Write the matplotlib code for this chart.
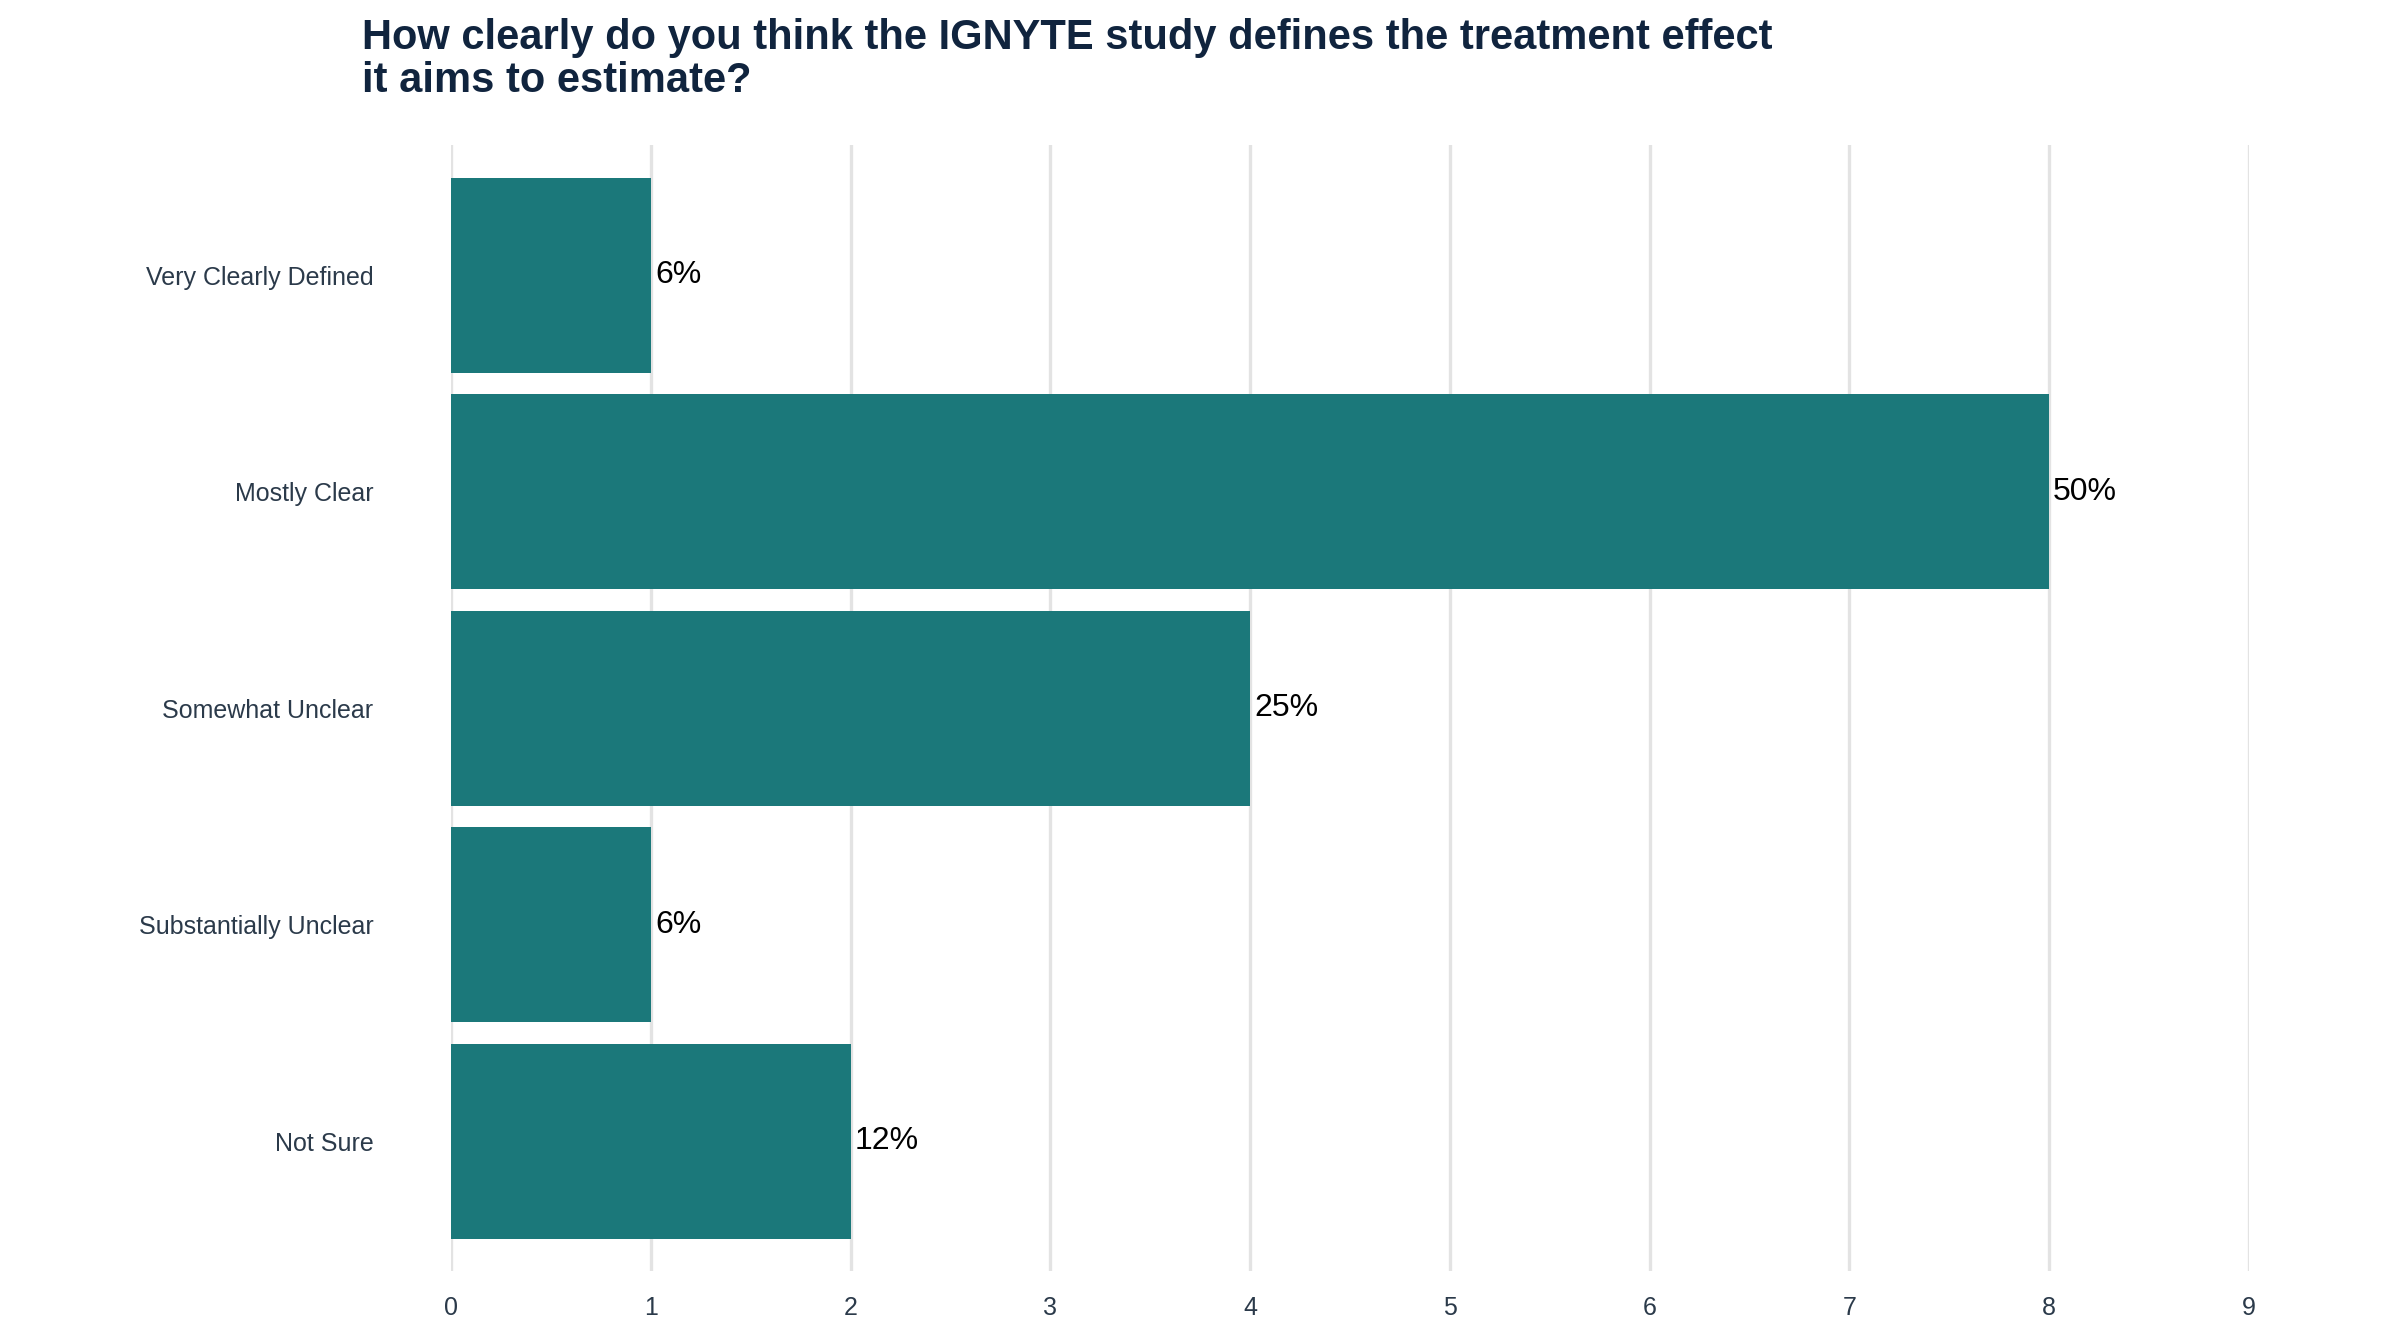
import matplotlib
matplotlib.use("Agg")
import matplotlib.pyplot as plt

categories = ["Very Clearly Defined", "Mostly Clear", "Somewhat Unclear", "Substantially Unclear", "Not Sure"]
counts = [1, 8, 4, 1, 2]
labels = ["6%", "50%", "25%", "6%", "12%"]
xticks = list(range(10))

plt.rcParams['font.family'] = ['Liberation Sans', 'DejaVu Sans']
fig = plt.figure(figsize=(12, 6.72), dpi=200)
ax = fig.add_axes([0.188, 0.054, 0.749, 0.838])
y = list(range(len(categories)))
ax.barh(y, counts, height=0.9, color="#1B787A", zorder=2)
for yi, c, l in zip(y, counts, labels):
    ax.text(c + 0.02, yi, l, va="center", ha="left", fontsize=11.5, color="black")
ax.set_ylim(4.6, -0.6)
ax.set_xlim(0, 9)
ax.set_xticks(xticks)
ax.set_yticks(y)
ax.set_yticklabels(categories)
ax.grid(axis="x", color="#e3e3e3", linewidth=1.2, zorder=0)
ax.tick_params(length=0, labelsize=9, colors="#2b3a4a", pad=9)
ax.tick_params(axis="y", pad=28)
for s in ax.spines.values():
    s.set_visible(False)
fig.text(0.151, 0.925, "How clearly do you think the IGNYTE study defines the treatment effect\nit aims to estimate?",
         fontsize=15, fontweight="bold", color="#10243e", ha="left", va="bottom", linespacing=1.1)
fig.savefig("out.png")
